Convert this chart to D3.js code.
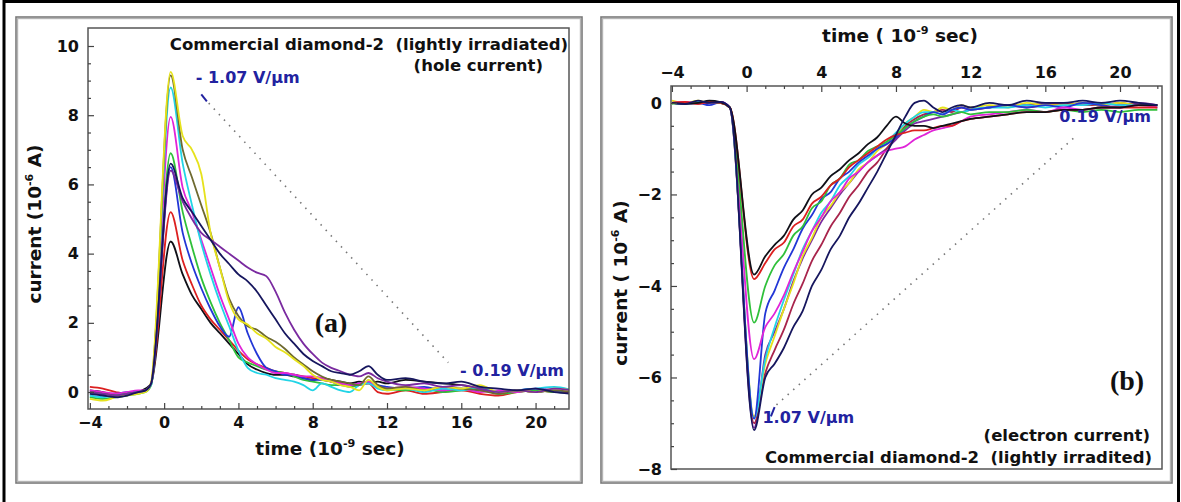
<!DOCTYPE html>
<html>
<head>
<meta charset="utf-8">
<script src="https://cdn.jsdelivr.net/npm/d3@7"></script>
<style>
  html, body { margin: 0; padding: 0; background: #fff; }
  svg { display: block; }
  text { font-family: "DejaVu Sans", "Liberation Sans", Arial, sans-serif; font-weight: bold; white-space: pre; }
</style>
</head>
<body>
<svg id="fig" width="1181" height="502"></svg>
<script>
// ---- data ----
// panel (a): hole current, time in ns, current in 1e-6 A
var tLeft = [-4, -3.3, -2.6, -2, -1.4, -1, -0.7, 0.35,
  1, 1.5, 2, 2.5, 3, 3.5, 4, 4.5, 5, 5.5, 6, 6.5, 7, 7.5, 8, 8.5, 9, 9.5, 10, 10.5, 11, 11.5, 12,
  13, 14, 15, 16, 17, 18, 19, 20, 21, 22];

var aYellow = [-0.2, -0.25, -0.15, -0.1, -0.05, 0.0, 0.3, 9.25,
  7.4, 7.0, 6.3, 4.6, 3.6, 2.6, 2.1, 1.95, 1.7, 1.55, 1.3, 1.15, 0.95, 0.75, 0.5, 0.35, 0.3, 0.2, 0.15, 0.05, 0.35, 0.15, 0.05,
  0.1, 0.05, 0.15, 0.1, 0.2, 0.0, 0.05, 0.0, 0.1, 0.05];
var aOlive = [0.0, -0.05, -0.1, -0.05, 0.0, 0.05, 0.25, 9.15,
  7.0, 6.2, 5.4, 4.6, 3.6, 2.7, 2.2, 1.9, 1.8, 1.6, 1.45, 1.25, 1.0, 0.8, 0.6, 0.45, 0.35, 0.3, 0.25, 0.2, 0.45, 0.2, 0.1,
  0.15, 0.05, 0.15, 0.1, 0.05, -0.05, 0.05, 0.0, 0.05, 0.0];
var aCyan = [-0.1, -0.15, -0.1, -0.05, 0.0, 0.05, 0.2, 8.8,
  6.6, 5.4, 4.3, 3.4, 2.6, 1.9, 1.2, 0.7, 0.55, 0.5, 0.4, 0.35, 0.3, 0.2, 0.05, 0.25, 0.15, 0.05, 0.0, 0.2, 0.25, 0.1, 0.05,
  0.1, 0.0, 0.1, 0.05, 0.15, 0.0, 0.05, 0.1, 0.15, 0.05];
var aMagenta = [0.05, 0.0, -0.05, 0.0, 0.05, 0.05, 0.25, 7.95,
  5.9, 5.2, 4.4, 3.6, 2.8, 2.1, 1.4, 1.0, 0.8, 0.65, 0.55, 0.55, 0.5, 0.45, 0.45, 0.4, 0.3, 0.25, 0.2, 0.25, 0.3, 0.15, 0.1,
  0.15, 0.1, 0.05, 0.1, 0.0, 0.05, 0.0, 0.1, 0.05, 0.1];
var aGreen = [-0.15, -0.2, -0.15, -0.1, -0.05, 0.0, 0.2, 6.9,
  5.2, 4.2, 3.3, 2.6, 2.0, 1.5, 1.0, 0.85, 0.75, 0.65, 0.6, 0.55, 0.45, 0.35, 0.3, 0.25, 0.2, 0.2, 0.15, 0.2, 0.3, 0.15, 0.1,
  0.05, 0.1, 0.0, 0.05, 0.1, -0.05, 0.0, 0.05, 0.0, 0.05];
var aNavy = [-0.05, -0.1, -0.15, -0.1, 0.0, 0.05, 0.25, 6.6,
  5.6, 5.2, 4.8, 4.4, 4.0, 3.7, 3.4, 3.2, 2.9, 2.5, 2.1, 1.7, 1.4, 1.1, 0.9, 0.75, 0.6, 0.55, 0.5, 0.6, 0.75, 0.5, 0.35,
  0.4, 0.3, 0.25, 0.3, 0.15, 0.1, 0.05, 0.1, 0.0, -0.05];
var aPurple = [0.0, -0.05, -0.1, -0.05, 0.0, 0.05, 0.25, 6.4,
  5.5, 5.0, 4.6, 4.4, 4.2, 4.0, 3.8, 3.6, 3.45, 3.35, 2.9, 2.3, 1.8, 1.4, 1.1, 0.85, 0.7, 0.6, 0.5, 0.45, 0.55, 0.4, 0.3,
  0.2, 0.25, 0.15, 0.2, 0.1, 0.0, 0.05, 0.0, 0.1, 0.05];
var aBlue = [0.0, -0.05, -0.05, 0.0, 0.0, 0.05, 0.25, 6.5,
  4.6, 3.7, 3.0, 2.4, 1.9, 1.6, 2.45, 1.7, 1.1, 0.7, 0.6, 0.5, 0.5, 0.4, 0.35, 0.35, 0.3, 0.2, 0.2, 0.25, 0.3, 0.2, 0.15,
  0.1, 0.15, 0.05, 0.1, 0.05, 0.0, 0.05, 0.1, 0.05, 0.0];
var aRed = [0.15, 0.1, 0.0, -0.05, 0.0, 0.05, 0.25, 5.2,
  3.8, 3.1, 2.5, 2.1, 1.8, 1.5, 1.2, 0.95, 0.8, 0.7, 0.6, 0.55, 0.5, 0.45, 0.4, 0.35, 0.3, 0.25, 0.2, 0.2, 0.25, 0.0, -0.05,
  0.05, -0.05, 0.0, 0.05, -0.05, -0.1, 0.0, 0.05, 0.0, 0.0];
var aBlack = [0.05, 0.0, -0.1, -0.05, 0.0, 0.1, 0.25, 4.35,
  3.4, 2.8, 2.4, 2.0, 1.7, 1.4, 1.1, 0.8, 0.65, 0.55, 0.5, 0.5, 0.45, 0.4, 0.35, 0.4, 0.35, 0.3, 0.25, 0.3, 0.25, 0.3, 0.25,
  0.35, 0.3, 0.25, 0.2, 0.1, 0.0, 0.05, 0.0, 0.05, -0.05];

// panel (b): electron current
var tRight = [-4, -3.3, -2.6, -2, -1.4, -0.9, 0.4,
  1, 1.5, 2, 2.5, 3, 3.5, 4, 4.5, 5, 5.5, 6, 6.5, 7, 7.5, 8, 8.5, 9, 9.5, 10, 10.5, 11, 11.5, 12,
  13, 14, 15, 16, 17, 18, 19, 20, 21, 22];

var bBlack = [0.0, -0.02, 0.0, 0.05, 0.02, -0.1, -3.75,
  -3.35, -3.1, -2.9, -2.55, -2.35, -2.0, -1.85, -1.6, -1.45, -1.25, -1.1, -0.9, -0.75, -0.5, -0.3, -0.45, -0.5, -0.5, -0.55, -0.5, -0.45, -0.4, -0.35,
  -0.3, -0.25, -0.2, -0.2, -0.15, -0.15, -0.1, -0.1, -0.05, -0.05];
var bRed = [0.0, 0.02, -0.02, 0.02, 0.0, -0.1, -3.85,
  -3.5, -3.2, -3.05, -2.7, -2.55, -2.2, -2.05, -1.8, -1.65, -1.4, -1.25, -1.1, -0.95, -0.8, -0.7, -0.65, -0.6, -0.6, -0.55, -0.5, -0.5, -0.4, -0.35,
  -0.3, -0.25, -0.2, -0.2, -0.15, -0.15, -0.1, -0.1, -0.1, -0.1];
var bGreen = [-0.02, 0.0, 0.0, 0.02, 0.0, -0.1, -4.8,
  -4.0, -3.55, -3.3, -2.9, -2.7, -2.3, -2.15, -1.8, -1.65, -1.35, -1.25, -1.05, -0.95, -0.85, -0.7, -0.55, -0.4, -0.3, -0.25, -0.3, -0.25, -0.2, -0.25,
  -0.2, -0.2, -0.15, -0.2, -0.15, -0.2, -0.15, -0.2, -0.15, -0.15];
var bBlue = [0.0, -0.02, 0.0, -0.05, 0.02, -0.1, -6.9,
  -4.6, -4.1, -3.6, -3.2, -2.75, -2.45, -2.1, -1.95, -1.65, -1.5, -1.3, -1.15, -1.0, -0.9, -0.75, -0.55, -0.4, -0.3, -0.2, -0.25, -0.15, -0.1, -0.15,
  -0.1, -0.05, -0.1, -0.05, -0.1, 0.0, -0.05, -0.1, -0.05, -0.05];
var bMagenta = [0.0, 0.02, 0.0, 0.0, 0.02, -0.1, -5.6,
  -4.9, -4.6, -4.2, -3.7, -3.25, -2.8, -2.5, -2.15, -1.95, -1.65, -1.5, -1.3, -1.15, -1.05, -1.0, -0.95, -0.8, -0.7, -0.6, -0.55, -0.5, -0.4, -0.3,
  -0.25, -0.2, -0.15, -0.2, -0.1, -0.15, -0.1, -0.1, -0.05, -0.1];
var bCyan = [0.0, -0.02, 0.02, 0.0, 0.0, -0.1, -6.9,
  -5.6, -4.9, -4.3, -3.75, -3.2, -2.8, -2.4, -2.15, -1.8, -1.6, -1.35, -1.2, -1.0, -0.85, -0.65, -0.45, -0.3, -0.2, -0.2, -0.25, -0.15, -0.2, -0.15,
  -0.1, -0.1, -0.05, -0.1, -0.05, -0.05, 0.0, -0.05, -0.05, -0.1];
var bYellow = [0.05, 0.0, 0.05, 0.0, 0.0, -0.1, -6.85,
  -5.7, -5.1, -4.5, -3.95, -3.35, -2.95, -2.5, -2.25, -1.95, -1.75, -1.45, -1.3, -1.05, -0.9, -0.7, -0.45, -0.3, -0.15, -0.2, -0.1, -0.15, -0.05, -0.1,
  -0.05, -0.1, 0.0, -0.05, -0.05, 0.0, -0.05, 0.0, -0.05, -0.05];
var bMaroon = [0.0, 0.0, -0.02, 0.02, 0.0, -0.1, -7.0,
  -5.9, -5.4, -4.95, -4.4, -3.95, -3.45, -3.1, -2.7, -2.4, -2.05, -1.8, -1.5, -1.3, -1.0, -0.75, -0.5, -0.35, -0.25, -0.2, -0.15, -0.2, -0.1, -0.15,
  -0.1, -0.05, -0.1, -0.05, 0.0, -0.05, -0.05, 0.0, -0.05, -0.05];
var bNavy = [0.0, -0.02, 0.05, 0.0, 0.02, -0.1, -7.15,
  -6.0, -5.7, -5.35, -4.9, -4.55, -4.0, -3.65, -3.2, -2.9, -2.5, -2.2, -1.85, -1.5, -1.1, -0.7, -0.3, 0.0, 0.05, -0.1, -0.2, -0.1, -0.05, -0.1,
  0.0, -0.05, 0.05, 0.0, 0.0, 0.05, 0.0, 0.05, 0.0, -0.05];
var bPurple = [0.0, 0.0, 0.0, 0.02, 0.0, -0.1, -7.1,
  -5.5, -5.0, -4.5, -3.9, -3.4, -3.0, -2.6, -2.3, -2.0, -1.75, -1.5, -1.3, -1.15, -1.0, -0.8, -0.6, -0.45, -0.4, -0.35, -0.3, -0.25, -0.2, -0.15,
  -0.1, -0.05, -0.05, 0.0, -0.05, 0.0, 0.0, -0.05, 0.0, -0.05];

var yTicksLeft = [0, 2, 4, 6, 8, 10];
var yTicksRight = [0, -2, -4, -6, -8];
var xTicks = [-4, 0, 4, 8, 12, 16, 20];

// line colours
var col = {
  yellow: "#e6e21c", olive: "#6e6a30", cyan: "#22d4e6", magenta: "#e024d8",
  green: "#2fc03a", navy: "#16165e", purple: "#7a2aa0", blue: "#2236d6",
  red: "#dc2020", black: "#101018", maroon: "#a8244c"
};

var leftSeries = [
  [aBlack, col.black], [aRed, col.red], [aGreen, col.green], [aBlue, col.blue],
  [aMagenta, col.magenta], [aCyan, col.cyan], [aOlive, col.olive], [aYellow, col.yellow],
  [aPurple, col.purple], [aNavy, col.navy]
];
var rightSeries = [
  [bPurple, col.purple], [bMaroon, col.maroon], [bYellow, col.yellow], [bCyan, col.cyan],
  [bBlue, col.blue], [bMagenta, col.magenta], [bGreen, col.green], [bRed, col.red],
  [bBlack, col.black], [bNavy, col.navy]
];

var svg = d3.select("#fig");
var annoBlue = "#2222a0";
var serif = "'Liberation Serif', 'Times New Roman', serif";

// outer frame + panel frames (grey double line)
svg.append("rect").attr("x", 4).attr("y", 1.5).attr("width", 1174.5).attr("height", 560)
  .attr("fill", "none").attr("stroke", "#000").attr("stroke-width", 3);
[[16, 17, 566, 466], [601, 17, 571, 466]].forEach(function (b) {
  svg.append("rect").attr("x", b[0]).attr("y", b[1]).attr("width", b[2]).attr("height", b[3])
    .attr("fill", "none").attr("stroke", "#7a7a7a").attr("stroke-width", 1.6);
  svg.append("rect").attr("x", b[0] + 1.6).attr("y", b[1] + 1.6).attr("width", b[2] - 3.2).attr("height", b[3] - 3.2)
    .attr("fill", "none").attr("stroke", "#b4b4b4").attr("stroke-width", 1.2);
});

function superLabel(g, pre, sup, post, fs) {
  g.append("tspan").text(pre);
  g.append("tspan").attr("dy", -fs * 0.45).attr("font-size", fs * 0.6).text(sup);
  g.append("tspan").attr("dy", fs * 0.45).text(post);
}

function drawLines(g, x, y, t, series, clipId) {
  var line = d3.line()
    .defined(function (d) { return d[1] != null && !isNaN(d[1]); })
    .x(function (d) { return x(d[0]); })
    .y(function (d) { return y(d[1]); })
    .curve(d3.curveMonotoneX);
  g.append("g").attr("clip-path", "url(#" + clipId + ")")
    .selectAll("path")
    .data(series)
    .enter()
    .append("path")
    .attr("d", function (s) { return line(t.map(function (tt, i) { return [tt, s[0][i]]; })); })
    .attr("fill", "none")
    .attr("stroke", function (s) { return s[1]; })
    .attr("stroke-width", 1.8)
    .attr("stroke-linejoin", "round");
}

function styleAxis(a) {
  a.select(".domain").remove();
  a.selectAll("line").attr("stroke", "#444").attr("stroke-width", 1.2);
  a.selectAll("text").attr("font-size", 16).attr("fill", "#111")
    .style("font-family", "'DejaVu Sans', 'Liberation Sans', Arial, sans-serif").style("font-weight", "bold");
}

// ---------- panel (a) ----------
function drawLeft() {
  var L = { left: 88, right: 569, top: 28, bottom: 409 };
  var x = d3.scaleLinear().domain([-4.1, 21.8]).range([L.left, L.right]);
  var y = d3.scaleLinear().domain([-0.49, 10.52]).range([L.bottom, L.top]);

  svg.append("clipPath").attr("id", "clipA").append("rect")
    .attr("x", L.left).attr("y", L.top).attr("width", L.right - L.left).attr("height", L.bottom - L.top);

  drawLines(svg, x, y, tLeft, leftSeries, "clipA");

  svg.append("rect").attr("x", L.left).attr("y", L.top)
    .attr("width", L.right - L.left).attr("height", L.bottom - L.top)
    .attr("fill", "none").attr("stroke", "#555").attr("stroke-width", 1.5);

  var ay = svg.append("g").attr("transform", "translate(" + L.left + ",0)")
    .call(d3.axisLeft(y).tickValues(yTicksLeft).tickSize(-6).tickPadding(9).tickFormat(d3.format("d")));
  styleAxis(ay);
  var ayMinor = svg.append("g").attr("transform", "translate(" + L.left + ",0)")
    .call(d3.axisLeft(y).tickValues(d3.range(0, 10.5, 0.5).filter(function (v) { return v % 2 !== 0; }))
      .tickSize(-3).tickFormat(""));
  styleAxis(ayMinor);

  var ax = svg.append("g").attr("transform", "translate(0," + L.bottom + ")")
    .call(d3.axisBottom(x).tickValues(xTicks).tickSize(-6).tickPadding(8).tickFormat(d3.format("d")));
  styleAxis(ax);
  var axMinor = svg.append("g").attr("transform", "translate(0," + L.bottom + ")")
    .call(d3.axisBottom(x).tickValues(d3.range(-4, 22, 1).filter(function (v) { return v % 4 !== 0; }))
      .tickSize(-3).tickFormat(""));
  styleAxis(axMinor);

  // axis titles
  var yl = svg.append("text").attr("transform", "translate(41,224) rotate(-90)")
    .attr("text-anchor", "middle").attr("font-size", 18.5).attr("fill", "#111");
  superLabel(yl, "current (10", "-6", " A)", 18.5);
  var xl = svg.append("text").attr("x", 330).attr("y", 455)
    .attr("text-anchor", "middle").attr("font-size", 18.5).attr("fill", "#111");
  superLabel(xl, "time (10", "-9", " sec)", 18.5);

  // titles
  svg.append("text").attr("x", 568).attr("y", 50).attr("text-anchor", "end")
    .attr("font-size", 16.5).attr("fill", "#111").text("Commercial diamond-2  (lightly irradiated)");
  svg.append("text").attr("x", 543).attr("y", 71).attr("text-anchor", "end")
    .attr("font-size", 16.5).attr("fill", "#111").text("(hole current)");

  // field-strength annotation
  svg.append("line")
    .attr("x1", x(2.4)).attr("y1", y(8.35)).attr("x2", x(15.3)).attr("y2", y(0.85))
    .attr("stroke", "#777").attr("stroke-width", 1.6).attr("stroke-dasharray", "1.5,6");
  svg.append("line")
    .attr("x1", x(2.0)).attr("y1", y(8.6)).attr("x2", x(2.3)).attr("y2", y(8.4))
    .attr("stroke", annoBlue).attr("stroke-width", 2);
  svg.append("text").attr("x", x(1.7)).attr("y", y(8.93)).attr("font-size", 16)
    .attr("fill", annoBlue).text("- 1.07 V/\u03bcm");
  svg.append("text").attr("x", 564).attr("y", y(0.45)).attr("text-anchor", "end").attr("font-size", 16)
    .attr("fill", annoBlue).text("- 0.19 V/\u03bcm");

  svg.append("text").attr("x", 331).attr("y", 332).attr("text-anchor", "middle")
    .style("font-family", serif).attr("font-size", 28)
    .attr("fill", "#111").text("(a)");
}

// ---------- panel (b) ----------
function drawRight() {
  var R = { left: 671, right: 1162, top: 86, bottom: 469 };
  var x = d3.scaleLinear().domain([-4.05, 22.25]).range([R.left, R.right]);
  var y = d3.scaleLinear().domain([-8, 0.37]).range([R.bottom, R.top]);

  svg.append("clipPath").attr("id", "clipB").append("rect")
    .attr("x", R.left).attr("y", R.top).attr("width", R.right - R.left).attr("height", R.bottom - R.top);

  drawLines(svg, x, y, tRight, rightSeries, "clipB");

  svg.append("rect").attr("x", R.left).attr("y", R.top)
    .attr("width", R.right - R.left).attr("height", R.bottom - R.top)
    .attr("fill", "none").attr("stroke", "#555").attr("stroke-width", 1.5);

  var ay = svg.append("g").attr("transform", "translate(" + R.left + ",0)")
    .call(d3.axisLeft(y).tickValues(yTicksRight).tickSize(-6).tickPadding(9).tickFormat(d3.format("d")));
  styleAxis(ay);
  var ayMinor = svg.append("g").attr("transform", "translate(" + R.left + ",0)")
    .call(d3.axisLeft(y).tickValues(d3.range(-8, 0.1, 0.5).filter(function (v) { return v % 2 !== 0; }))
      .tickSize(-3).tickFormat(""));
  styleAxis(ayMinor);

  var ax = svg.append("g").attr("transform", "translate(0," + R.top + ")")
    .call(d3.axisTop(x).tickValues(xTicks).tickSize(-6).tickPadding(8).tickFormat(d3.format("d")));
  styleAxis(ax);
  var axMinor = svg.append("g").attr("transform", "translate(0," + R.top + ")")
    .call(d3.axisTop(x).tickValues(d3.range(-4, 23, 1).filter(function (v) { return v % 4 !== 0; }))
      .tickSize(-3).tickFormat(""));
  styleAxis(axMinor);

  var xl = svg.append("text").attr("x", 900).attr("y", 42)
    .attr("text-anchor", "middle").attr("font-size", 18.5).attr("fill", "#111");
  superLabel(xl, "time ( 10", "-9", " sec)", 18.5);
  var yl = svg.append("text").attr("transform", "translate(627,283) rotate(-90)")
    .attr("text-anchor", "middle").attr("font-size", 18.5).attr("fill", "#111");
  superLabel(yl, "current ( 10", "-6", " A)", 18.5);

  svg.append("line")
    .attr("x1", x(1.6)).attr("y1", y(-6.6)).attr("x2", x(17.7)).attr("y2", y(-0.7))
    .attr("stroke", "#777").attr("stroke-width", 1.6).attr("stroke-dasharray", "1.5,6");
  svg.append("line")
    .attr("x1", x(1.3)).attr("y1", y(-6.85)).attr("x2", x(1.5)).attr("y2", y(-6.65))
    .attr("stroke", annoBlue).attr("stroke-width", 2);
  svg.append("text").attr("x", x(0.85)).attr("y", y(-7.0)).attr("font-size", 16)
    .attr("fill", annoBlue).text("1.07 V/\u03bcm");
  svg.append("text").attr("x", 1151).attr("y", y(-0.42)).attr("text-anchor", "end").attr("font-size", 16)
    .attr("fill", annoBlue).text("0.19 V/\u03bcm");

  svg.append("text").attr("x", 1150).attr("y", 441).attr("text-anchor", "end")
    .attr("font-size", 16.5).attr("fill", "#111").text("(electron current)");
  svg.append("text").attr("x", 1152).attr("y", 463).attr("text-anchor", "end")
    .attr("font-size", 16.5).attr("fill", "#111").text("Commercial diamond-2  (lightly irradited)");

  svg.append("text").attr("x", 1127).attr("y", 390).attr("text-anchor", "middle")
    .style("font-family", serif).attr("font-size", 28)
    .attr("fill", "#111").text("(b)");
}

drawLeft();
drawRight();
</script>
</body>
</html>
